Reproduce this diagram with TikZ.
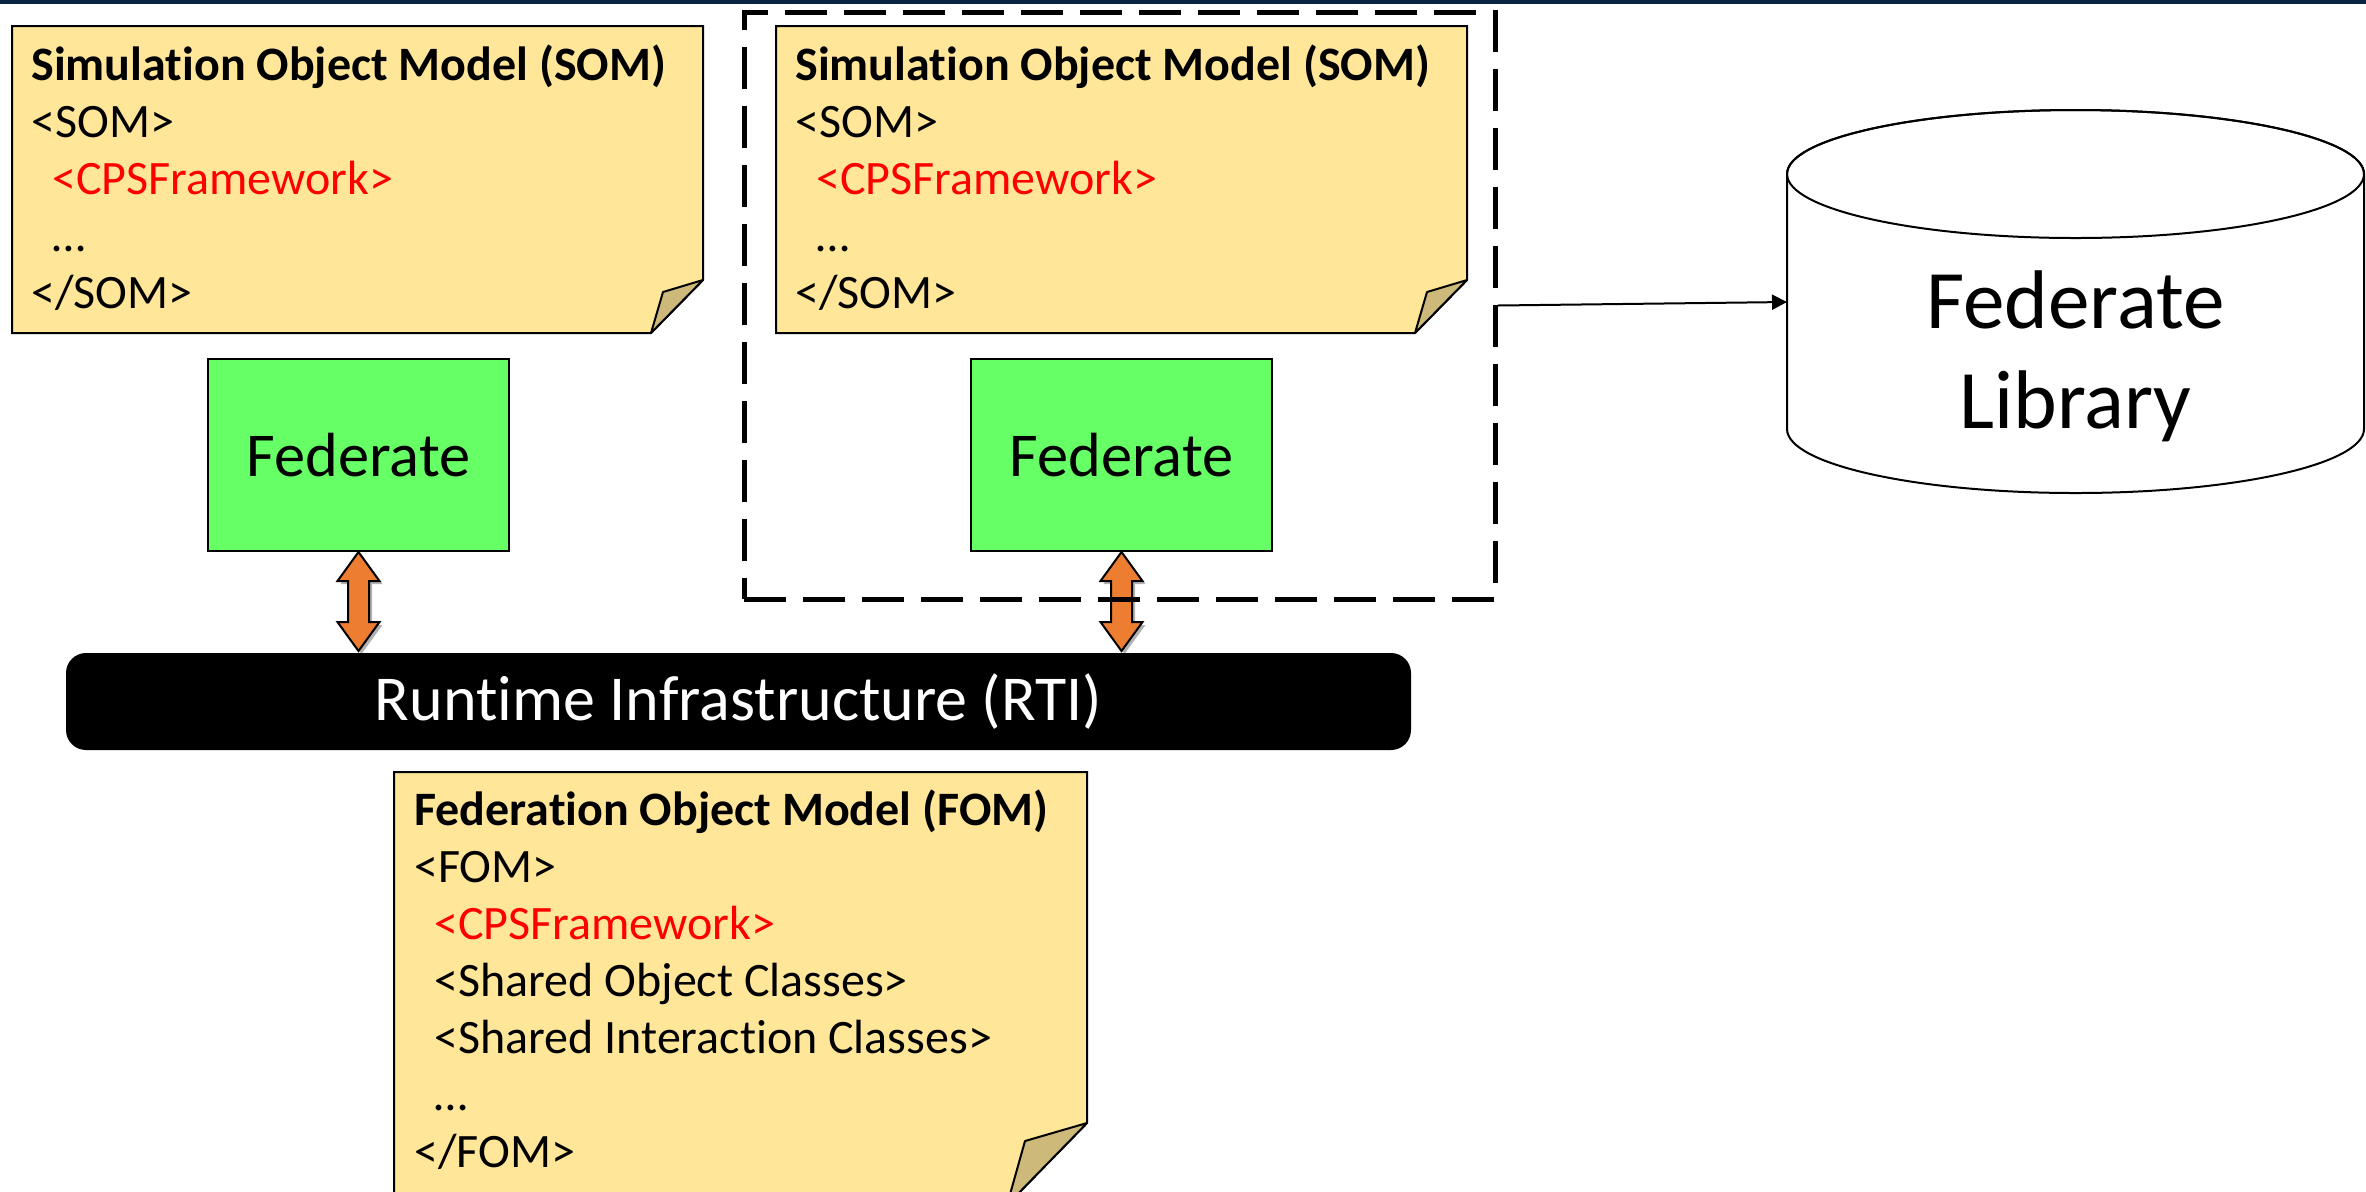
\documentclass[tikz,border=0pt]{standalone}
\usepackage{fontspec}
\setmainfont{Carlito}[Ligatures={NoCommon,NoContextual,NoRare}]
\usetikzlibrary{arrows.meta,shadows}

\definecolor{notefill}{RGB}{255,230,153}
\definecolor{foldfill}{RGB}{205,185,122}
\definecolor{fedgreen}{RGB}{102,255,102}
\definecolor{linkorange}{RGB}{237,125,49}
\definecolor{cpsred}{RGB}{255,0,0}
\definecolor{topnavy}{RGB}{12,36,68}

\begin{document}
\begin{tikzpicture}[x=0.5pt,y=-0.5pt,
  note/.style={draw=black, line width=1pt, fill=notefill, line join=miter},
  fold/.style={draw=black, line width=1pt, fill=foldfill, line join=round},
  noteline/.style={anchor=base west, inner sep=0pt, font=\fontsize{24}{28}\selectfont},
  notetitle/.style={noteline, font=\fontsize{24}{28}\selectfont\bfseries},
  cpsline/.style={noteline, text=cpsred},
  fedbox/.style={draw=black, line width=1pt, fill=fedgreen, minimum width=150.5pt,
    minimum height=96pt, inner sep=0pt, font=\fontsize{31.2}{37}\selectfont},
  link/.style={draw=black, line width=1pt, fill=linkorange, line join=miter,
    drop shadow={opacity=0.3, shadow xshift=1.5pt, shadow yshift=-1.5pt, fill=black}},
  rtibar/.style={fill=black, text=white, rounded corners=10pt, minimum width=672.5pt,
    minimum height=48.5pt, inner sep=0pt, font=\fontsize{32}{38}\selectfont},
  groupbox/.style={draw=black, line width=2.5pt, dash pattern=on 21pt off 8.5pt,
    minimum width=375.5pt, minimum height=293.5pt, inner sep=0pt},
  libarrow/.style={draw=black, line width=1pt, -{Triangle[length=7.5pt,width=7.5pt]}},
  cyl/.style={draw=black, line width=1pt, fill=white},
  libtext/.style={anchor=base, inner sep=0pt, font=\fontsize{41.6}{50}\selectfont}
]
\useasboundingbox (0,0) rectangle (2366,1191);
\clip (0,0) rectangle (2366,1191);

% thin banner along the top edge
\fill[topnavy] (0,0) rectangle (2366,4);

% ---------- left SOM note ----------
\path[note] (12,26) -- (703,26) -- (703,280) -- (651,333) -- (12,333) -- cycle;
\path[fold] (703,280) -- (663,292) -- (651,333) -- cycle;
\node[notetitle] (somA1) at (31,80)  {Simulation Object Model (SOM)};
\node[noteline]  (somA2) at (31,137) {<SOM>};
\node[cpsline]   (somA3) at (52,194) {<CPSFramework>};
\node[noteline]  (somA4) at (52,251) {…};
\node[noteline]  (somA5) at (31,308) {</SOM>};

% ---------- right SOM note ----------
\path[note] (776,26) -- (1467,26) -- (1467,280) -- (1415,333) -- (776,333) -- cycle;
\path[fold] (1467,280) -- (1427,292) -- (1415,333) -- cycle;
\node[notetitle] (somB1) at (795,80)  {Simulation Object Model (SOM)};
\node[noteline]  (somB2) at (795,137) {<SOM>};
\node[cpsline]   (somB3) at (816,194) {<CPSFramework>};
\node[noteline]  (somB4) at (816,251) {…};
\node[noteline]  (somB5) at (795,308) {</SOM>};

% ---------- federates ----------
\node[fedbox] (fedL) at (358.5,455) {Federate};
\node[fedbox] (fedR) at (1121.5,455) {Federate};

% ---------- runtime infrastructure ----------
\node[rtibar] (rti) at (738.5,701.5) {Runtime Infrastructure (RTI)};

% ---------- two-way links federate <-> RTI ----------
\path[link] (fedL.south) -- ++(21,29) -- ++(-10.5,0) -- ++(0,41) -- ++(10.5,0)
  -- ++(-21,29) -- ++(-21,-29) -- ++(10.5,0) -- ++(0,-41) -- ++(-10.5,0) -- cycle;
\path[link] (fedR.south) -- ++(21,29) -- ++(-10.5,0) -- ++(0,41) -- ++(10.5,0)
  -- ++(-21,29) -- ++(-21,-29) -- ++(10.5,0) -- ++(0,-41) -- ++(-10.5,0) -- cycle;

% ---------- dashed group: SOM + federate ----------
\node[groupbox] (grp) at (1119.5,305.5) {};

% ---------- federate library (cylinder) ----------
\path[cyl] (1787,174) -- (1787,429)
  arc[start angle=180, end angle=360, x radius=144.25pt, y radius=32pt]
  -- (2364,174)
  arc[start angle=0, end angle=180, x radius=144.25pt, y radius=32pt] -- cycle;
\draw[line width=1pt] (2075.5,174) ellipse[x radius=144.25pt, y radius=32pt];
\node[libtext] (libA) at (2075.5,328) {Federate};
\node[libtext] (libB) at (2075.5,428) {Library};
\coordinate (libW) at (1787,302);

\draw[libarrow] (grp.east) -- (libW);

% ---------- FOM note ----------
\path[note] (394,772) -- (1087,772) -- (1087,1123) -- (1007,1205) -- (394,1205) -- cycle;
\path[fold] (1087,1123) -- (1025,1141) -- (1007,1205) -- cycle;
\node[notetitle] (fom1) at (414,825)  {Federation Object Model (FOM)};
\node[noteline]  (fom2) at (414,882)  {<FOM>};
\node[cpsline]   (fom3) at (434,939)  {<CPSFramework>};
\node[noteline]  (fom4) at (434,996)  {<Shared Object Classes>};
\node[noteline]  (fom5) at (434,1053) {<Shared Interaction Classes>};
\node[noteline]  (fom6) at (434,1110) {…};
\node[noteline]  (fom7) at (414,1167) {</FOM>};
\end{tikzpicture}
\end{document}
